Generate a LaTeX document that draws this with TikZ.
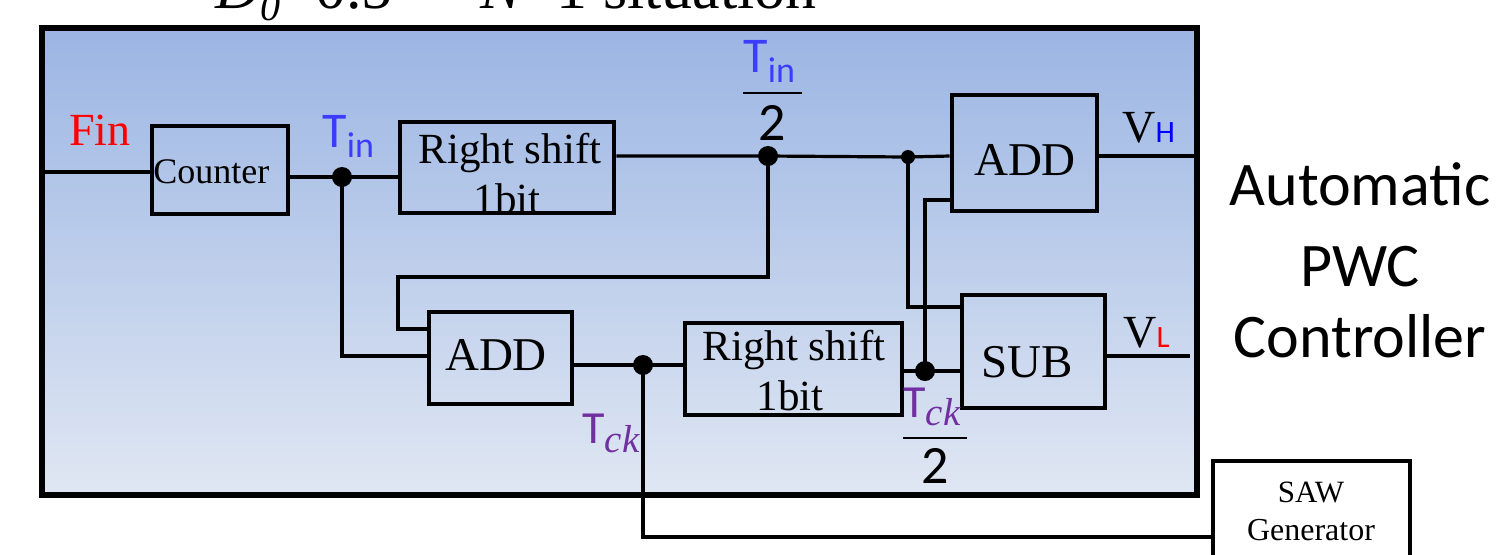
\documentclass[tikz,border=0pt]{standalone}
\usepackage{fontspec}
\setmainfont{Liberation Serif}
\newfontfamily\calib{Carlito}
\definecolor{topc}{RGB}{155,181,227}
\definecolor{botc}{RGB}{224,231,243}
\definecolor{tinblue}{RGB}{60,60,255}
\definecolor{hblue}{RGB}{0,0,255}
\definecolor{lred}{RGB}{255,0,0}
\definecolor{tckpurple}{RGB}{112,48,160}
\newcommand{\fs}[1]{\fontsize{#1}{1.2\dimexpr #1pt\relax}\selectfont}
\begin{document}
\begin{tikzpicture}[x=0.5pt,y=-0.5pt,
  framebox/.style={draw, line width=2.8pt, inner sep=0pt, top color=topc, bottom color=botc},
  blk/.style={draw, line width=2.4pt, inner sep=0pt},
  wire/.style={line width=1.6pt},
  jdot/.style={circle, fill, inner sep=0pt, minimum size=10pt},
  sdot/.style={circle, fill, inner sep=0pt, minimum size=7pt},
  lab/.style={inner sep=0pt, anchor=base},
  labw/.style={inner sep=0pt, anchor=base west},
  fbar/.style={line width=1.2pt}]
\useasboundingbox (0,0) rectangle (1497,554);
\fill[white] (0,0) rectangle (1497,554);

% title (cut off at top)
\node[labw] (t1) at (215,8) {\fs{31}{\itshape D}\raisebox{-6pt}{\fs{20}\itshape 0}=0.5};
\node[labw] (t2) at (480,8) {\fs{31}{\itshape N}=1 situation};

% main frame
\node[framebox, minimum width=577.5pt, minimum height=233.5pt] (frame) at (619.5,261.5) {};

% junction coordinates
\coordinate (tin) at (342,177);
\coordinate (half) at (768,156);
\coordinate (sj) at (908,157);
\coordinate (tck) at (643,365);
\coordinate (tck2) at (925,371);
\coordinate (b1) at (398,277);
\coordinate (vlend) at (1190,356);

% boxes
\node[blk, minimum width=68pt, minimum height=44pt] (counter) at (220,170) {};
\node[blk, minimum width=107pt, minimum height=45.5pt] (rs1) at (507,167.5) {};
\node[blk, minimum width=72.5pt, minimum height=58pt] (add1) at (1024.5,153) {};
\node[blk, minimum width=71.5pt, minimum height=46pt] (add2) at (500.5,358) {};
\node[blk, minimum width=108.5pt, minimum height=46pt] (rs2) at (793.5,369) {};
\node[blk, minimum width=71.5pt, minimum height=56.5pt] (sub) at (1033.5,351.5) {};
\node[blk, minimum width=98.5pt, minimum height=69.5pt] (saw) at (1311.5,530.5) {};

% wires
\draw[wire] (frame.west |- 0,172) -- (counter.west |- 0,172);
\draw[wire] (counter.east |- tin) -- (tin) -- (rs1.west |- tin);
\draw[wire] (rs1.east |- half) -- (half) -- (sj) -- (add1.west |- half);
\draw[wire] (add1.east |- half) -- (frame.east |- half);
\draw[wire] (half) |- (b1) |- (add2.west |- 0,329);
\draw[wire] (tin) |- (add2.west |- 0,356);
\draw[wire] (add2.east |- tck) -- (tck) -- (rs2.west |- tck);
\draw[wire] (tck) |- (saw.west |- 0,537);
\draw[wire] (rs2.east |- tck2) -- (tck2) -- (sub.west |- tck2);
\draw[wire] (tck2) |- (add1.west |- 0,200);
\draw[wire] (sj) |- (sub.west |- 0,307);
\draw[wire] (sub.east |- vlend) -- (vlend);

% dots
\node[jdot] (dtin) at (tin) {};
\node[jdot] (dhalf) at (half) {};
\node[sdot] (dsj) at (sj) {};
\node[jdot] (dtck) at (tck) {};
\node[jdot] (dtck2) at (tck2) {};

% box texts
\node[labw] (lcounter) at (153,183) {\fs{18}Counter};
\node[lab] (lrs1a) at (510,163) {\fs{21.5}Right shift};
\node[lab] (lrs1b) at (507,213) {\fs{21.5}1bit};
\node[lab] (ladd1) at (1025,175) {\fs{23.5}ADD};
\node[lab] (ladd2) at (496,370) {\fs{23.5}ADD};
\node[lab] (lrs2a) at (794,360) {\fs{21.5}Right shift};
\node[lab] (lrs2b) at (790,410) {\fs{21.5}1bit};
\node[lab] (lsub) at (1027.5,377) {\fs{23.5}SUB};
\node[lab] (lsawa) at (1311,502) {\fs{15.5}SAW};
\node[lab] (lsawb) at (1311,540) {\fs{16}Generator};

% signal labels
\node[labw, text=lred] (lfin) at (69,145) {\fs{23}Fin};
\node[labw] (ltin) at (322,147) {\calib\color{tinblue}\fs{25}T\raisebox{-5pt}{\fs{18}in}};
\node[labw] (ltinh) at (743,72) {\calib\color{tinblue}\fs{25}T\raisebox{-5pt}{\fs{18}in}};
\draw[fbar] (743,93) -- (802,93);
\node[lab] (ltwo1) at (772,140) {\calib\fs{27}2};
\node[labw] (lvh) at (1122,142) {\fs{23}V{\calib\color{hblue}\fs{15.5}H}};
\node[labw] (lvl) at (1123,347) {\fs{23}V{\calib\color{lred}\fs{15.5}L}};
\node[labw] (ltck) at (582,443) {\color{tckpurple}{\calib\fs{23}T}\raisebox{-4.5pt}{\fs{19.5}\itshape ck}};
\node[labw] (ltckh) at (903,417) {\color{tckpurple}{\calib\fs{23}T}\raisebox{-4pt}{\fs{19.5}\itshape ck}};
\draw[fbar] (903,438) -- (967,438);
\node[lab] (ltwo2) at (935,483) {\calib\fs{27}2};

% right side title
\node[lab] (r1) at (1360,205) {\calib\fs{31}Automatic};
\node[lab] (r2) at (1360,286) {\calib\fs{31}PWC};
\node[lab] (r3) at (1360,357) {\calib\fs{31}Controller};
\end{tikzpicture}
\end{document}
